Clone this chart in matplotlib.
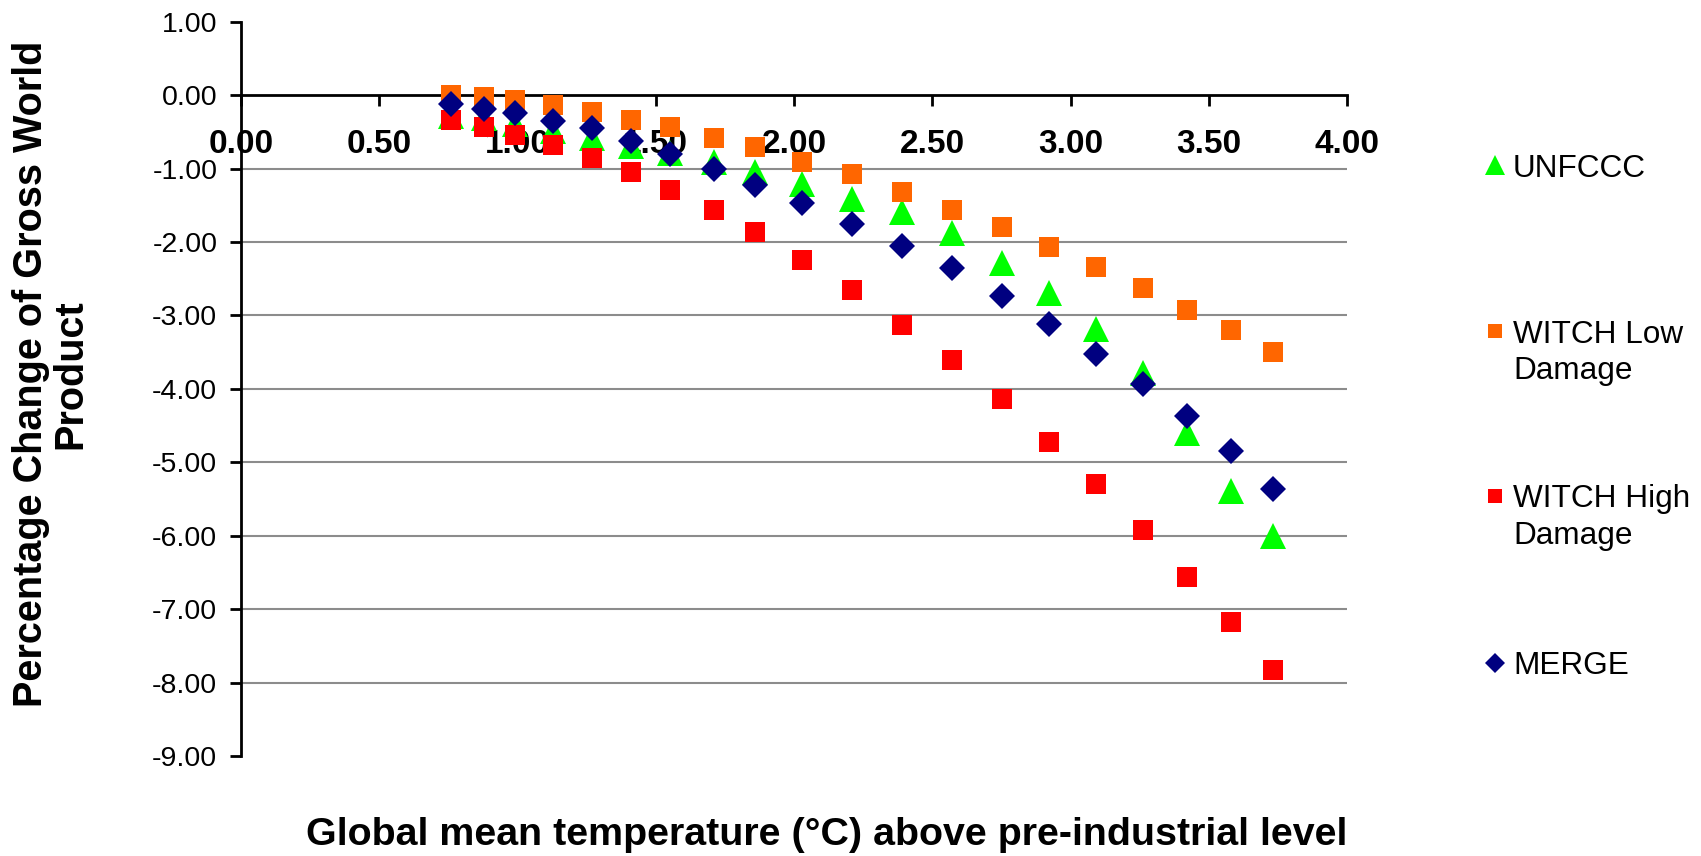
import numpy as np
import matplotlib
matplotlib.use('Agg')
import matplotlib.pyplot as plt
from matplotlib.lines import Line2D

plt.rcParams['font.family'] = ['Liberation Sans', 'DejaVu Sans']

# Temperatura (°C) acima do nível pré-industrial
temp = [0.76, 0.88, 0.99, 1.13, 1.27, 1.41, 1.55, 1.71, 1.86, 2.03,
        2.21, 2.39, 2.57, 2.75, 2.92, 3.09, 3.26, 3.42, 3.58, 3.73]

unfccc = [-0.28, -0.31, -0.39, -0.49, -0.59, -0.69, -0.79, -0.91, -1.05, -1.21,
          -1.41, -1.59, -1.88, -2.29, -2.70, -3.18, -3.79, -4.60, -5.39, -6.00]
witch_low = [0.00, -0.03, -0.07, -0.14, -0.23, -0.34, -0.44, -0.58, -0.71, -0.91,
             -1.08, -1.32, -1.56, -1.80, -2.07, -2.34, -2.62, -2.93, -3.20, -3.50]
witch_high = [-0.34, -0.44, -0.54, -0.68, -0.85, -1.05, -1.29, -1.56, -1.87, -2.24,
              -2.65, -3.13, -3.61, -4.14, -4.73, -5.30, -5.92, -6.56, -7.18, -7.83]
merge = [-0.12, -0.19, -0.24, -0.35, -0.45, -0.63, -0.80, -1.01, -1.23, -1.47,
         -1.75, -2.06, -2.36, -2.74, -3.11, -3.52, -3.93, -4.37, -4.85, -5.36]

series_names = ['UNFCCC', 'WITCH Low\nDamage', 'WITCH High\nDamage', 'MERGE']
x_ticks = [0.0, 0.5, 1.0, 1.5, 2.0, 2.5, 3.0, 3.5, 4.0]
y_ticks = list(range(1, -10, -1))

estilos = [
    dict(marker='^', color='#00FF00', ms=19),
    dict(marker='s', color='#FF6600', ms=14),
    dict(marker='s', color='#FF0000', ms=14),
    dict(marker='D', color='#000080', ms=13.5),
]

fig = plt.figure(figsize=(17.01, 8.56), dpi=100)
ax = fig.add_axes([0.1416, 0.1168, 0.6505, 0.8578])

# Linhas de grade
ax.hlines(np.arange(-8, 0), 0, 4, color='#8c8c8c', lw=1.5, zorder=0)

dados = [unfccc, witch_low, witch_high, merge]
for valores, est in zip(dados, estilos):
    ax.plot(temp, valores, linestyle='none', marker=est['marker'],
            color=est['color'], markersize=est['ms'], markeredgewidth=0,
            zorder=3)

ax.set_xlim(0, 4)
ax.set_ylim(-9, 1)
ax.spines['top'].set_visible(False)
ax.spines['right'].set_visible(False)
ax.spines['bottom'].set_position(('data', 0))
ax.spines['bottom'].set_linewidth(2)
ax.spines['left'].set_linewidth(2)

ax.set_xticks(x_ticks)
ax.set_xticklabels(['%.2f' % v for v in x_ticks], fontsize=24, fontweight='bold')
ax.set_yticks(y_ticks)
ax.set_yticklabels(['%.2f' % v for v in y_ticks], fontsize=20.5)
ax.tick_params(axis='x', direction='out', length=8, width=2, pad=16)
ax.tick_params(axis='y', direction='out', length=8, width=2, pad=9)

fig.text(0.486, 0.025, 'Global mean temperature (°C) above pre-industrial level',
         ha='center', va='center', fontsize=28.4, fontweight='bold')
fig.text(0.03, 0.563, 'Percentage Change of Gross World\nProduct',
         ha='center', va='center', rotation=90, fontsize=28.5, fontweight='bold',
         linespacing=1.05)

# Legenda manual
leg_y = [0.807, 0.613, 0.4206, 0.2255]
for nome, est, yy in zip(series_names, estilos, leg_y):
    fig.add_artist(Line2D([0.879], [yy], transform=fig.transFigure,
                          marker=est['marker'], color=est['color'],
                          markersize=est['ms'] * 0.75, markeredgewidth=0,
                          linestyle='none'))
    fig.text(0.8895, yy + 0.0135, nome, ha='left', va='top', fontsize=22.7,
             linespacing=1.27, transform=fig.transFigure)

fig.savefig('out.png', dpi=100)
